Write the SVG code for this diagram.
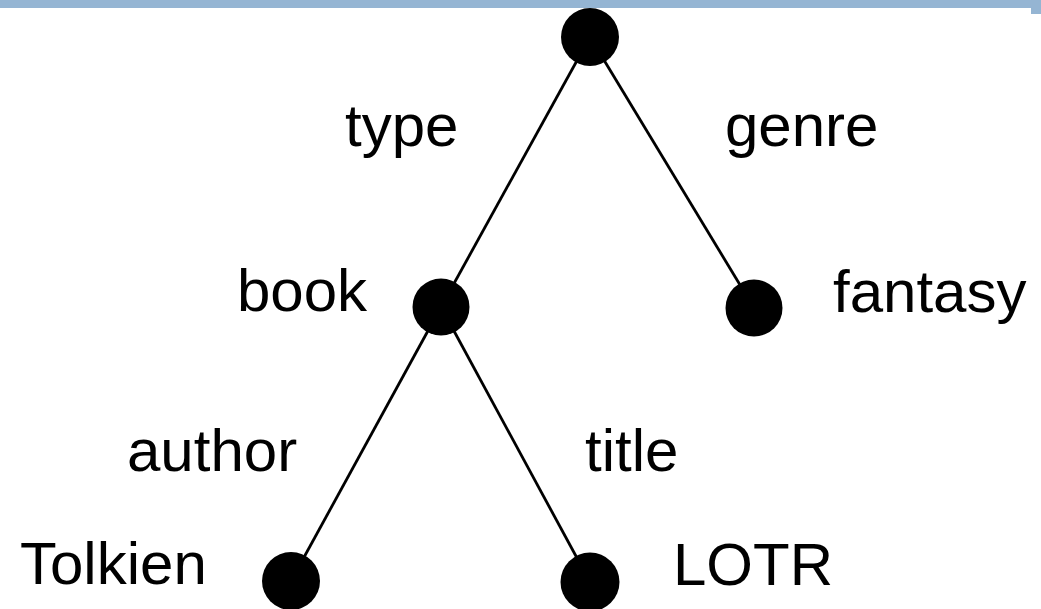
<svg xmlns="http://www.w3.org/2000/svg" width="1041" height="609" viewBox="0 0 1041 609">
<style>
.lbl{font-family:"Liberation Sans",Arial,sans-serif;font-size:60px;fill:#000}
.edge{stroke:#000;stroke-width:2.8;fill:none}
.dot{fill:#000}
</style>
<rect width="1041" height="609" fill="#fff"/>
<g id="connectors">
<line class="edge" x1="590" y1="37" x2="441" y2="307"/>
<line class="edge" x1="590" y1="37" x2="754" y2="308"/>
<line class="edge" x1="441" y1="307" x2="291" y2="581"/>
<line class="edge" x1="441" y1="307" x2="590" y2="582"/>
</g>
<g id="edge-labels">
<text class="lbl" x="345" y="146">type</text>
<text class="lbl" x="725" y="146">genre</text>
<text class="lbl" x="127" y="471">author</text>
<text class="lbl" x="585" y="471">title</text>
</g>
<g id="root"><circle class="dot" cx="590" cy="37" r="29"/></g>
<g id="book"><circle class="dot" cx="441" cy="307" r="28.5"/><text class="lbl" x="237" y="311">book</text></g>
<g id="fantasy"><circle class="dot" cx="754" cy="308" r="28.5"/><text class="lbl" x="833" y="312">fantasy</text></g>
<g id="tolkien"><circle class="dot" cx="291" cy="581" r="29"/><text class="lbl" x="20" y="584">Tolkien</text></g>
<g id="lotr"><circle class="dot" cx="590" cy="582" r="29.5"/><text class="lbl" x="673" y="585">LOTR</text></g>
<g id="topbar">
<rect x="0" y="0" width="1041" height="8" fill="#95b5d3"/>
<rect x="1031" y="0" width="10" height="14" fill="#95b5d3"/>
</g>
</svg>
